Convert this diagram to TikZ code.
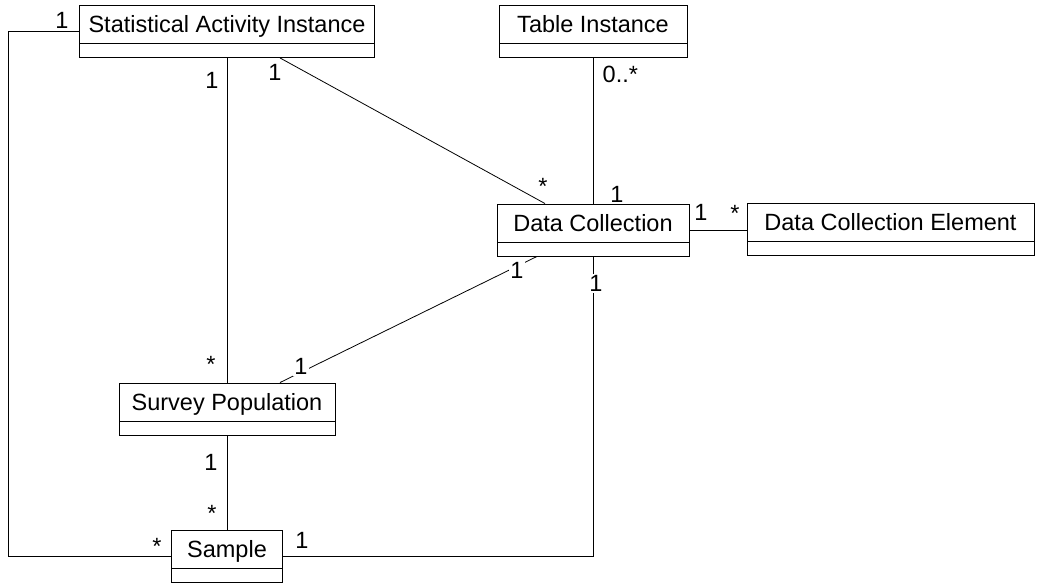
\documentclass[tikz,border=0pt]{standalone}
\usepackage{fontspec}
\setmainfont{Liberation Sans}
\usetikzlibrary{positioning,calc}

\tikzset{
  umlclass/.style={draw, line width=0.9pt, minimum height=52pt, text height=16pt, text depth=13pt, inner xsep=0pt,
    path picture={\draw[line width=0.9pt] ([yshift=14pt]path picture bounding box.south west) -- ([yshift=14pt]path picture bounding box.south east);}},
  mult/.style={fill=white, inner sep=1.5pt, anchor=base},
  assoc/.style={line width=0.8pt}
}

\begin{document}
\begin{tikzpicture}[x=1pt, y=-1pt, font=\fontsize{23.5}{28}\selectfont]
\useasboundingbox (0,0) rectangle (1037,585);

% classes
\node[umlclass, minimum width=295pt] (sai) at (227,31.5) {Statistical Activity Instance};
\node[umlclass, minimum width=188pt] (ti) at (593,31) {Table Instance};
\node[umlclass, minimum width=192pt] (dc) at (593,230) {Data Collection};
\node[umlclass, minimum width=287pt] (dce) at (890.5,229.5) {Data Collection Element};
\node[umlclass, minimum width=216pt] (sp) at (227,409) {Survey Population};
\node[umlclass, minimum width=111pt] (smp) at (227,556) {Sample};

% associations
\coordinate (leftC) at (8,556);
\draw[assoc] (sai.west) -| (leftC) -- (smp.west);
\draw[assoc] (sai.south) -- (sp.north);
\draw[assoc] ([xshift=53pt]sai.south) -- ([xshift=-48pt]dc.north);
\draw[assoc] (ti.south) -- (dc.north);
\draw[assoc] (dc.east) -- (dc.east -| dce.west);
\draw[assoc] ([xshift=-56pt]dc.south) -- ([xshift=53pt]sp.north);
\draw[assoc] (dc.south) |- (smp.east);
\draw[assoc] (sp.south) -- (smp.north);

% multiplicities
\node[mult] (mSaiW) at (62,29) {1};
\node[mult] (mSaiS) at (212,89) {1};
\node[mult] (mSaiD) at (275,81) {1};
\node[mult, anchor=base west] (mTi) at (601,83) {0..*};
\node[mult] (mDcA) at (543,195) {*};
\node[mult] (mDcT) at (617,203) {1};
\node[mult] (mDcE) at (701,221) {1};
\node[mult] (mDce) at (735,222) {*};
\node[mult] (mDcP) at (517,279) {1};
\node[mult] (mDcS) at (596,292) {1};
\node[mult] (mSpA) at (211,373) {*};
\node[mult] (mSpD) at (301,375) {1};
\node[mult] (mSpS) at (211,471) {1};
\node[mult] (mSmP) at (212,521) {*};
\node[mult] (mSmA) at (157,554) {*};
\node[mult] (mSmD) at (302,548) {1};
\end{tikzpicture}
\end{document}
